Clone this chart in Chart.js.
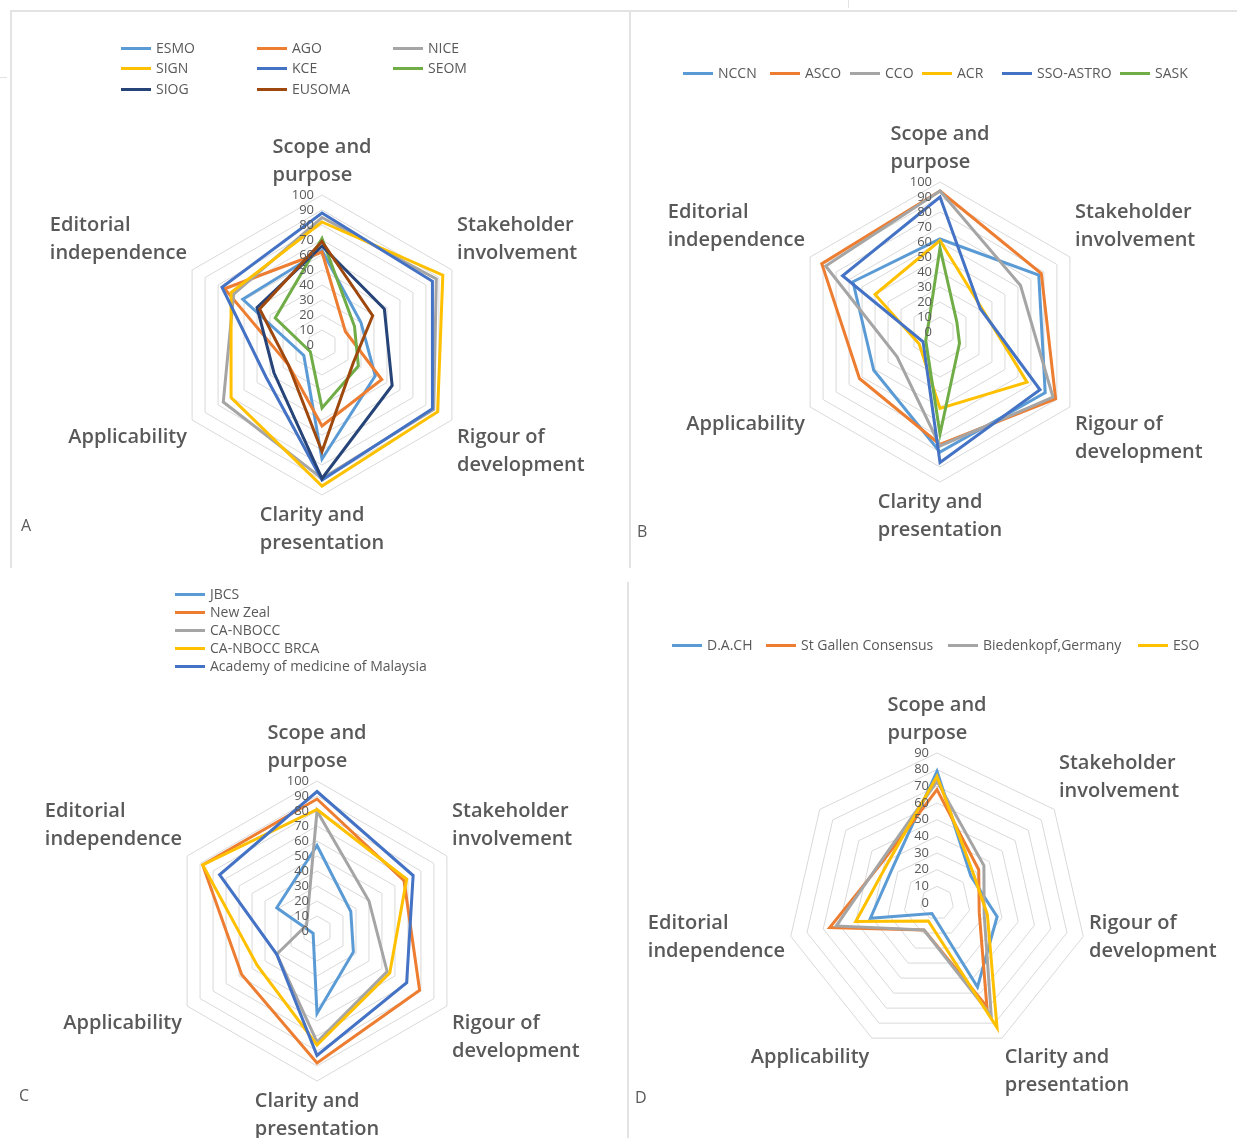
<!DOCTYPE html>
<html>
<head>
<meta charset="utf-8">
<script src="https://cdn.jsdelivr.net/npm/chart.js@4.4.1/dist/chart.umd.min.js"></script>
<style>
  body { margin: 0; background: #fff; font-family: "Open Sans", sans-serif; }
  #page { position: relative; width: 1237px; height: 1138px; overflow: hidden; }
  canvas { position: absolute; }
  .rule { position: absolute; background: #e3e3e3; }
  .legend { position: absolute; font-size: 14px; color: #595959; }
  .legend .item { position: absolute; white-space: nowrap; line-height: 18px; }
  .legend .swatch { display: inline-block; width: 30px; height: 3px; vertical-align: middle; margin-right: 5px; position: relative; top: -1px; }
  .letter { position: absolute; font-size: 16px; color: #595959; }
</style>
</head>
<body>
<div id="page">
  <div class="rule" style="left:10px;top:10px;width:1227px;height:2px"></div>
  <div class="rule" style="left:10px;top:10px;width:2px;height:558px"></div>
  <div class="rule" style="left:629px;top:10px;width:2px;height:558px"></div>
  <div class="rule" style="left:627px;top:582px;width:2px;height:556px"></div>
  <div class="rule" style="left:0px;top:77px;width:7px;height:1px"></div>
  <div class="rule" style="left:848px;top:0px;width:1px;height:8px"></div>

  <canvas id="chartA" width="628" height="572" style="left:0;top:0"></canvas>
  <canvas id="chartB" width="609" height="572" style="left:628px;top:0"></canvas>
  <canvas id="chartC" width="628" height="566" style="left:0;top:572px"></canvas>
  <canvas id="chartD" width="609" height="566" style="left:628px;top:572px"></canvas>

  <div class="legend" id="legendA"></div>
  <div class="legend" id="legendB"></div>
  <div class="legend" id="legendC"></div>
  <div class="legend" id="legendD"></div>

  <div class="letter" style="left:21px;top:514px">A</div>
  <div class="letter" style="left:637px;top:520px">B</div>
  <div class="letter" style="left:19px;top:1084px">C</div>
  <div class="letter" style="left:635px;top:1086px">D</div>
</div>
<script>
// AGREE II domains
const domains = [
  ['Scope and', 'purpose'],
  ['Stakeholder', 'involvement'],
  ['Rigour of', 'development'],
  ['Clarity and', 'presentation'],
  ['Applicability'],
  ['Editorial', 'independence']
];
// panel D has an extra, unlabelled spoke
const domainsD = domains.concat(['']);

const radarTicks = [0, 10, 20, 30, 40, 50, 60, 70, 80, 90, 100];
const radarTicksD = [0, 10, 20, 30, 40, 50, 60, 70, 80, 90];

// panel A
const namesA = ['ESMO', 'AGO', 'NICE', 'SIGN', 'KCE', 'SEOM', 'SIOG', 'EUSOMA'];
const valuesA = [
  [63, 30, 41, 76, 14, 61],
  [62, 18, 46, 54, 26, 75],
  [85, 88, 86, 89, 76, 68],
  [82, 93, 89, 94, 70, 70],
  [88, 85, 85, 90, 43, 77],
  [71, 25, 28, 42, 9, 36],
  [66, 48, 54, 89, 37, 50],
  [69, 39, 24, 71, 26, 48]
];

// panel B
const namesB = ['NCCN', 'ASCO', 'CCO', 'ACR', 'SSO-ASTRO', 'SASK'];
const valuesB = [
  [62, 76, 81, 80, 51, 67],
  [94, 78, 89, 75, 62, 91],
  [94, 62, 87, 76, 33, 88],
  [61, 32, 67, 51, 16, 50],
  [90, 31, 77, 87, 13, 75],
  [56, 13, 15, 68, 11, 9]
];

// panel C
const namesC = ['JBCS', 'New Zeal', 'CA-NBOCC', 'CA-NBOCC BRCA', 'Academy of medicine of Malaysia'];
const valuesC = [
  [57, 26, 28, 55, 3, 31],
  [88, 67, 79, 88, 58, 88],
  [80, 40, 54, 74, 31, 8],
  [81, 69, 56, 76, 46, 88],
  [93, 74, 69, 83, 31, 75]
];

// panel D
const namesD = ['D.A.CH', 'St Gallen Consensus', 'Biedenkopf,Germany', 'ESO'];
const valuesD = [
  [79, 26, 37, 56, 7, 41, 34],
  [68, 32, 26, 69, 18, 66, 41],
  [73, 36, 29, 75, 18, 62, 42],
  [76, 28, 31, 83, 12, 50, 38]
];

const office = ['#5B9BD5', '#ED7D31', '#A5A5A5', '#FFC000', '#4472C4', '#70AD47', '#264478', '#9E480E'];
const textGrey = '#595959';

// draws tick numbers left of the vertical spoke and the domain names, Excel style
const excelLabels = {
  id: 'excelLabels',
  afterDraw(chart) {
    const s = chart.scales.r;
    const ctx = chart.ctx;
    const ticks = chart.options.plugins.excelLabels.ticks;
    ctx.save();
    ctx.fillStyle = textGrey;
    ctx.font = '13px "Open Sans"';
    ctx.textAlign = 'right';
    ctx.textBaseline = 'middle';
    ticks.forEach(v => {
      const d = s.getDistanceFromCenterForValue(v);
      ctx.fillText(String(v), s.xCenter - 8, s.yCenter - d);
    });

    ctx.font = '600 20px "Open Sans"';
    ctx.textAlign = 'left';
    const n = chart.data.labels.length;
    const lh = 28;
    chart.data.labels.forEach((lab, i) => {
      const lines = Array.isArray(lab) ? lab : [lab];
      if (!lines.join('')) return;
      const a = 2 * Math.PI * i / n;
      const p = s.getPointPosition(i, s.drawingArea + 6);
      const sx = Math.sin(a), cy = Math.cos(a);
      // lines are left aligned inside the label block
      const w = Math.max(...lines.map(l => ctx.measureText(l).width));
      let left;
      if (sx > 0.1) left = p.x;
      else if (sx < -0.1) left = p.x - w;
      else left = p.x - w / 2;
      const h = lines.length * lh;
      let top;
      if (cy > 0.3) top = p.y - h;
      else if (cy < -0.3) top = p.y;
      else top = p.y - h / 2;
      lines.forEach((l, k) => ctx.fillText(l, left, top + lh * k + lh / 2));
    });
    ctx.restore();
  }
};

function makeRadar(id, labels, names, values, max, ticks, pad) {
  const n = names.length;
  const datasets = names.map((name, i) => ({
    label: name,
    data: values[i],
    borderColor: office[i],
    backgroundColor: 'transparent',
    borderWidth: 3,
    pointRadius: 0,
    pointHoverRadius: 0,
    fill: false,
    order: n - i
  }));
  return new Chart(document.getElementById(id), {
    type: 'radar',
    data: { labels: labels, datasets: datasets },
    options: {
      responsive: false,
      animation: false,
      layout: { padding: pad },
      scales: {
        r: {
          min: 0,
          max: max,
          ticks: { stepSize: 10, display: false },
          grid: { color: '#d9d9d9', lineWidth: 1 },
          angleLines: { display: false },
          pointLabels: { display: false }
        }
      },
      plugins: {
        legend: { display: false },
        tooltip: { enabled: false },
        excelLabels: { ticks: ticks }
      }
    },
    plugins: [excelLabels]
  });
}

// html legends; positions are [x, y] of each entry
function makeLegend(id, names, spots) {
  const box = document.getElementById(id);
  names.forEach((name, i) => {
    const el = document.createElement('div');
    el.className = 'item';
    el.style.left = spots[i][0] + 'px';
    el.style.top = (spots[i][1] - 9) + 'px';
    el.innerHTML = '<span class="swatch" style="background:' + office[i] + '"></span>' + name;
    box.appendChild(el);
  });
}

makeRadar('chartA', domains, namesA, valuesA, 100, radarTicks, { left: 172, top: 195, right: 156, bottom: 77 });
makeRadar('chartB', domains, namesB, valuesB, 100, radarTicks, { left: 162, top: 182, right: 147, bottom: 90 });
makeRadar('chartC', domains, namesC, valuesC, 100, radarTicks, { left: 167, top: 209, right: 161, bottom: 57 });
makeRadar('chartD', domainsD, namesD, valuesD, 90, radarTicksD, { left: 159, top: 181, right: 150, bottom: 85 });

makeLegend('legendA', namesA, [[121, 48], [257, 48], [393, 48], [121, 68], [257, 68], [393, 68], [121, 89], [257, 89]]);
makeLegend('legendB', namesB, [[683, 73], [770, 73], [850, 73], [922, 73], [1002, 73], [1120, 73]]);
makeLegend('legendC', namesC, [[175, 594], [175, 612], [175, 630], [175, 648], [175, 666]]);
makeLegend('legendD', namesD, [[672, 645], [766, 645], [948, 645], [1138, 645]]);
</script>
</body>
</html>
